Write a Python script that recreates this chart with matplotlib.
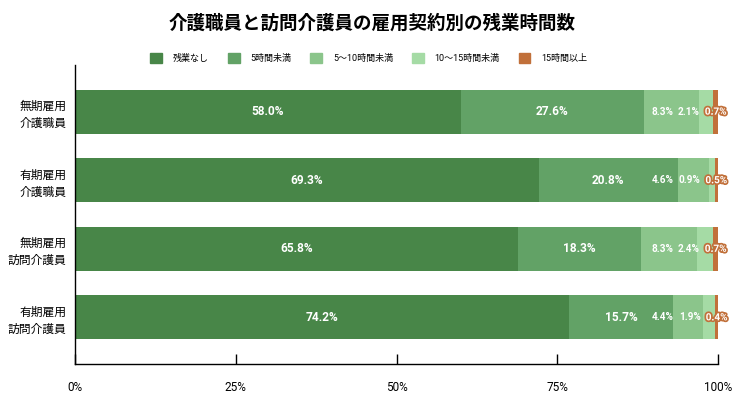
import matplotlib
matplotlib.use("Agg")
import matplotlib.pyplot as plt
import matplotlib.patheffects as pe
from matplotlib.patches import Patch
from matplotlib import font_manager as fm
import numpy as np

plt.rcParams['font.family'] = ['Roboto', 'Noto Sans CJK JP', 'DejaVu Sans']

# bold Roboto, but not the condensed cut
bold_files = [f.fname for f in fm.fontManager.ttflist
              if f.name == 'Roboto' and f.weight in (700, 'bold')
              and 'ondensed' not in f.fname and 'talic' not in f.fname]
if bold_files:
    bold_font = fm.FontProperties(fname=bold_files[0])
else:
    bold_font = fm.FontProperties(family='Roboto', weight='bold')

title = '介護職員と訪問介護員の雇用契約別の残業時間数'
groups = ['無期雇用\n介護職員', '有期雇用\n介護職員', '無期雇用\n訪問介護員', '有期雇用\n訪問介護員']
series = ['残業なし', '5時間未満', '5〜10時間未満', '10〜15時間未満', '15時間以上']
colors = ['#488648', '#62a266', '#8bc58b', '#a5dba5', '#c1703a']

# raw survey values (%), bars are drawn normalised to 100%
values = np.array([
    [58.0, 27.6, 8.3, 2.1, 0.7],
    [69.3, 20.8, 4.6, 0.9, 0.5],
    [65.8, 18.3, 8.3, 2.4, 0.7],
    [74.2, 15.7, 4.4, 1.9, 0.4],
])

xticks = [0, 25, 50, 75, 100]
xticklabels = ['0%', '25%', '50%', '75%', '100%']

fig = plt.figure(figsize=(7.45, 4.01), dpi=100)
ax = fig.add_axes([0.1007, 0.0923, 0.8631, 0.7456])

norm = values / values.sum(axis=1, keepdims=True) * 100
y = np.arange(len(groups))
left = np.zeros(len(groups))
labels = []  # (row, col, text, ideal x)
for j, s in enumerate(series):
    ax.barh(y, norm[:, j], left=left, height=0.64, color=colors[j], label=s)
    for i in range(len(groups)):
        cx = left[i] + norm[i, j] / 2
        fp = bold_font.copy()
        fp.set_size(8.6 if j < 2 else 7.2)
        t = ax.text(cx, y[i], f'{values[i, j]:.1f}%', ha='center', va='center',
                    color='white', fontproperties=fp, clip_on=False)
        if j == 4:
            t.set_path_effects([pe.withStroke(linewidth=2.5, foreground=colors[4])])
        labels.append((i, j, t, cx))
    left += norm[:, j]

ax.set_ylim(3.68, -0.68)
ax.set_xlim(0, 100)
ax.set_yticks(y)
ax.set_yticklabels(groups, fontsize=8.5, linespacing=1.4)
ax.set_xticks(xticks)
ax.set_xticklabels(xticklabels, fontsize=8.5)
ax.tick_params(axis='y', length=0, pad=6)
ax.tick_params(axis='x', direction='in', length=7, pad=12, width=1)
for sp in ['top', 'right']:
    ax.spines[sp].set_visible(False)
for sp in ['left', 'bottom']:
    ax.spines[sp].set_linewidth(1)

fig.suptitle(title, fontsize=13.3, fontweight='bold', y=0.965)

handles = [Patch(color=c, label=s) for c, s in zip(colors, series)]
fig.legend(handles=handles, loc='center', bbox_to_anchor=(0.495, 0.855), ncol=5,
           frameon=False, fontsize=6.5, handlelength=1.3, handleheight=1.3,
           columnspacing=2.1, handletextpad=1.2)

# push small labels leftwards so they don't overlap
fig.canvas.draw()
r = fig.canvas.get_renderer()
to_px = ax.transData.transform
to_data = ax.transData.inverted().transform
gap = 5
for i in range(len(groups)):
    limit = np.inf
    for j in [4, 3, 2]:
        t = [l for l in labels if l[0] == i and l[1] == j][0]
        w = t[2].get_window_extent(r).width
        px = to_px((t[3], y[i]))[0]
        if px + w / 2 > limit:
            px = limit - w / 2
        t[2].set_x(to_data((px, 0))[0])
        limit = px - w / 2 - gap

fig.savefig('out.png', dpi=100)
